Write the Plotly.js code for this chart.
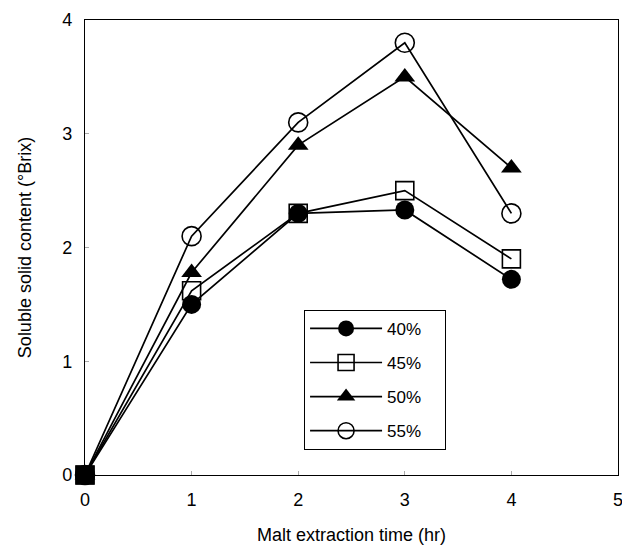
<!DOCTYPE html>
<html>
<head>
<meta charset="utf-8">
<script src="https://cdn.plot.ly/plotly-3.0.1.min.js"></script>
<style>html,body{margin:0;padding:0;background:#fff;}#chart{width:622px;height:545px;}</style>
</head>
<body>
<div id="chart"></div>
<script>
const time = [0, 1, 2, 3, 4];
const s40 = [0, 1.5, 2.3, 2.33, 1.72];
const s45 = [0, 1.62, 2.3, 2.5, 1.9];
const s50 = [0, 1.78, 2.9, 3.5, 2.7];
const s55 = [0, 2.1, 3.1, 3.8, 2.3];
const names = ['40%', '45%', '50%', '55%'];
const xTicks = [0, 1, 2, 3, 4, 5];
const yTicks = [0, 1, 2, 3, 4];

const FONT = 'Liberation Sans, Arial, Helvetica, sans-serif';
const line = {color: '#000', width: 1.7};
const PAD = '\u00a0\u00a0\u00a0\u00a0';

function tr(y, name, marker) {
  return {x: time, y: y, name: name + PAD, legendgroup: name, type: 'scatter', mode: 'lines+markers',
    line: line, marker: marker, cliponaxis: false};
}

const data = [
  tr(s40, names[0], {symbol: 'circle', size: 19, color: '#000'}),
  tr(s45, names[1], {symbol: 'square-open', size: 18, color: '#000', line: {width: 1.6, color: '#000'}}),
  tr(s50, names[2], {symbol: 'triangle-up', size: 18, color: '#000'}),
  tr(s55, names[3], {symbol: 'circle-open', size: 19, color: '#000', line: {width: 1.6, color: '#000'}}),
  // overlapping markers at the origin appear as one solid square
  {x: time.slice(0, 1), y: s45.slice(0, 1), type: 'scatter', mode: 'markers', showlegend: false,
    marker: {symbol: 'square', size: 19, color: '#000'}, cliponaxis: false}
];

const layout = {
  width: 622, height: 545,
  margin: {l: 85, r: 4, t: 20, b: 70},
  paper_bgcolor: '#fff', plot_bgcolor: '#fff',
  font: {family: FONT, size: 18, color: '#000'},
  showlegend: true,
  legend: {x: 0.411, y: 0.363, xanchor: 'left', yanchor: 'top',
    bordercolor: '#000', borderwidth: 1, bgcolor: '#fff',
    traceorder: 'grouped', font: {size: 17, family: FONT},
    tracegroupgap: 9, itemwidth: 72},
  xaxis: {range: [0, 5], tickvals: xTicks, ticktext: xTicks.map(String),
    showgrid: false, zeroline: false, showline: true, linecolor: '#000', linewidth: 1.2,
    mirror: true, ticks: 'inside', ticklen: 4, tickcolor: '#aaa',
    ticklabelstandoff: 8, ticklabeloverflow: 'allow',
    tickfont: {size: 18, family: FONT},
    title: {text: 'Malt extraction time (hr)', font: {size: 18, family: FONT}, standoff: 19}},
  yaxis: {range: [0, 4], tickvals: yTicks, ticktext: yTicks.map(String),
    showgrid: false, zeroline: false, showline: true, linecolor: '#000', linewidth: 1.2,
    mirror: true, ticks: 'inside', ticklen: 4, tickcolor: '#aaa',
    ticklabelstandoff: 8,
    tickfont: {size: 18, family: FONT},
    title: {text: 'Soluble solid content (°Brix)', font: {size: 18, family: FONT}, standoff: 25}}
};

Plotly.newPlot('chart', data, layout, {displayModeBar: false, staticPlot: true});
</script>
</body>
</html>
